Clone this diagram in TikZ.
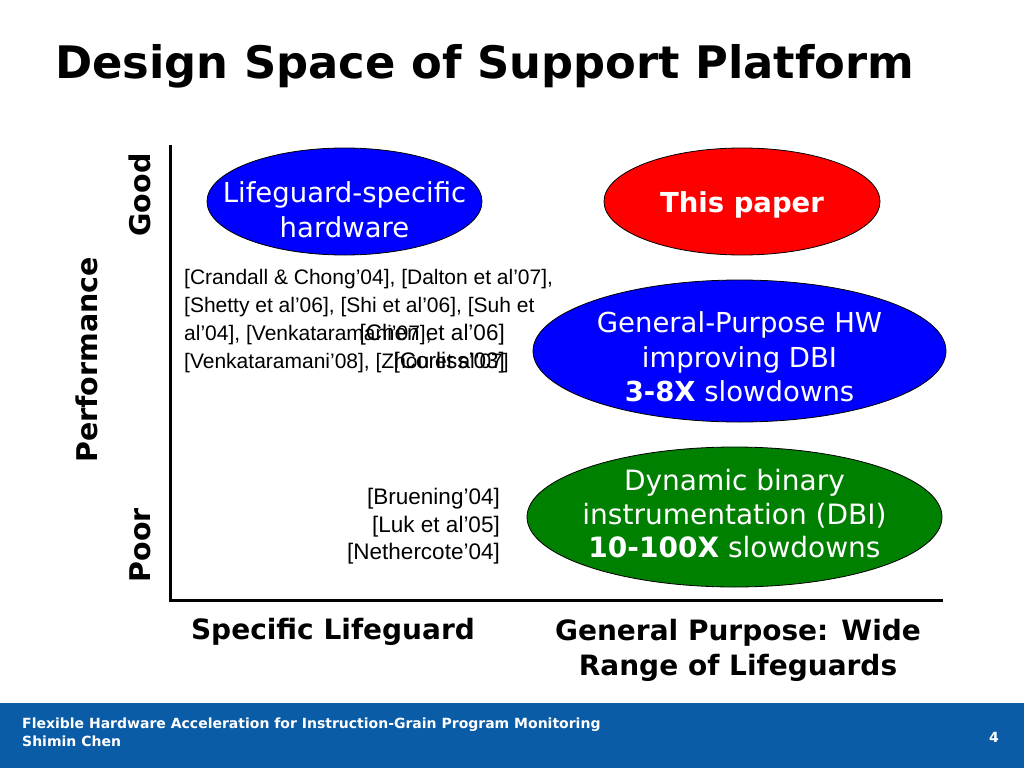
\documentclass[tikz,border=0pt]{standalone}
\usepackage{fontspec}
\setmainfont{DejaVu Sans}
\newfontfamily\arialfont{Liberation Sans}
\usetikzlibrary{shapes.geometric}
\definecolor{footblue}{RGB}{11,92,166}
\definecolor{dbigreen}{RGB}{0,128,0}
\begin{document}
\begin{tikzpicture}
  [x=1pt,y=-1pt,
   blob/.style={ellipse,draw=black,thick,inner sep=0pt},
   blobtext/.style={text=white,align=center,inner sep=0pt,font=\fontsize{27.5}{34.5}\selectfont},
   axislabel/.style={font=\bfseries\fontsize{28.5}{32}\selectfont,inner sep=0pt},
   refs/.style={font=\arialfont\fontsize{21}{27.7}\selectfont,inner sep=0pt},
   foot/.style={font=\bfseries\fontsize{14}{18}\selectfont,text=white,inner sep=0pt}]
  \useasboundingbox (0,0) rectangle (1024,768);

  \node[anchor=base west,inner sep=0pt,font=\bfseries\fontsize{44.8}{50}\selectfont]
    (title) at (55,78) {Design Space of Support Platform};

  % axes
  \coordinate (top) at (170,145);
  \coordinate (origin) at (170,600);
  \coordinate (right) at (943,600);
  \draw[line width=3pt] (top) -- (origin) -- (right);

  \node[axislabel,rotate=90] (good) at (140,195) {Good};
  \node[axislabel,rotate=90] (poor) at (140,545) {Poor};
  \node[axislabel,rotate=90] (perf) at (87,360) {Performance};
  \node[axislabel,font=\bfseries\fontsize{28}{35}\selectfont] (spec) at (333,632) {Specific Lifeguard};
  \node[axislabel,align=center,font=\bfseries\fontsize{28}{35}\selectfont] (gen) at (738,650)
    {General Purpose: Wide\\Range of Lifeguards};

  % citations
  \node[refs,anchor=north west,align=left] (hwrefs) at (184,269.5)
    {[Crandall \& Chong’04], [Dalton et al’07],\\{}%
     [Shetty et al’06], [Shi et al’06], [Suh et\\{}%
     al’04], [Venkataramani’07],\\{}%
     [Venkataramani’08], [Zhou et al’07]};
  \node[refs,anchor=north east,align=right,font=\arialfont\fontsize{22.5}{27.7}\selectfont]
    (morerefs) at (505,324) {[Chen et al’06]\\{}[Corliss’03]};
  \node[refs,anchor=north east,align=right,font=\arialfont\fontsize{22.5}{27.5}\selectfont]
    (dbirefs) at (500,488) {[Bruening’04]\\{}[Luk et al’05]\\{}[Nethercote’04]};

  % ellipses
  \node[blob,fill=blue,minimum width=275,minimum height=107] (lghw) at (344.5,201.5) {};
  \node[blob,fill=red,minimum width=276,minimum height=107] (paper) at (742,201.5) {};
  \node[blob,fill=blue,minimum width=413,minimum height=142] (gphw) at (739.5,351) {};
  \node[blob,fill=dbigreen,minimum width=415,minimum height=140] (dbi) at (734.5,517) {};

  \node[blobtext] (lghwtext) at ([yshift=-8pt]lghw.center) {Lifeguard-specific\\hardware};
  \node[blobtext,font=\bfseries\fontsize{27.5}{34}\selectfont] (papertext)
    at ([yshift=-3.5pt]paper.center) {This paper};
  \node[blobtext] (gphwtext) at ([yshift=-6pt]gphw.center)
    {General-Purpose HW\\improving DBI\\\textbf{3-8X} slowdowns};
  \node[blobtext,font=\fontsize{28}{33.5}\selectfont] (dbitext) at ([yshift=3pt]dbi.center)
    {Dynamic binary\\instrumentation (DBI)\\\textbf{10-100X} slowdowns};

  % footer
  \fill[footblue] (0,703) rectangle (1024,768);
  \node[foot,anchor=base west,align=left] (foottitle) at (22,746)
    {Flexible Hardware Acceleration for Instruction-Grain Program Monitoring\\Shimin Chen};
  \node[foot,anchor=base east] (pagenum) at (999,742) {4};
\end{tikzpicture}
\end{document}
